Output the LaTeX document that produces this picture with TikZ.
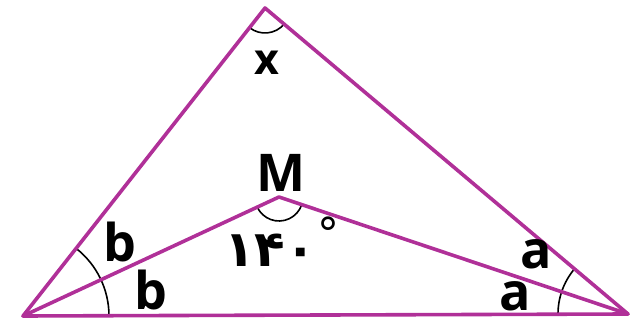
\documentclass[tikz,border=0pt]{standalone}
\usepackage{fontspec}
\setmainfont{Open Sans}
\newfontfamily\digitfont[Script=Arabic]{DejaVu Sans}
\definecolor{edge}{RGB}{176,48,152}
\begin{document}
\begin{tikzpicture}[x=1pt,y=1pt,
  side/.style={draw=edge,line width=3.6pt,line join=round,line cap=round},
  anglearc/.style={draw=black,line width=1.6pt},
  lbl/.style={inner sep=0pt,font=\fontsize{52}{52}\selectfont\bfseries},
  lblx/.style={inner sep=0pt,font=\fontsize{43}{43}\selectfont\bfseries}]
\useasboundingbox (0,0) rectangle (631,326);
\coordinate (T) at (265,318);
\coordinate (L) at (23,10);
\coordinate (R) at (628,12);
\coordinate (M) at (279,129);
% angle arcs
\draw[anglearc] ([shift={(231.8:25)}]T) arc (231.8:319.9:25);
\draw[anglearc] ([shift={(204.9:24)}]M) arc (204.9:341.5:24);
\draw[anglearc] ([shift={(0.2:86)}]L) arc (0.2:51.8:86);
\draw[anglearc] ([shift={(139.9:70)}]R) arc (139.9:180.2:70);
% sides
\draw[side] (L) -- (T) -- (R) -- cycle;
\draw[side] (L) -- (M) -- (R);
% labels
\node[lblx] (lx) at (267,263) {x};
\node[lbl] (lM) at (281,153) {M};
\node[lbl] (lb1) at (120,84) {b};
\node[lbl] (lb2) at (151,36) {b};
\node[lbl] (la1) at (536,72) {a};
\node[lbl] (la2) at (515,30) {a};
\node[inner sep=0pt,font=\digitfont\fontsize{50}{50}\selectfont\bfseries] (deg) at (270,76) {۱۴۰};
\node[inner sep=0pt,font=\digitfont\fontsize{44}{44}\selectfont] (degs) at (328,93) {°};
\end{tikzpicture}
\end{document}
